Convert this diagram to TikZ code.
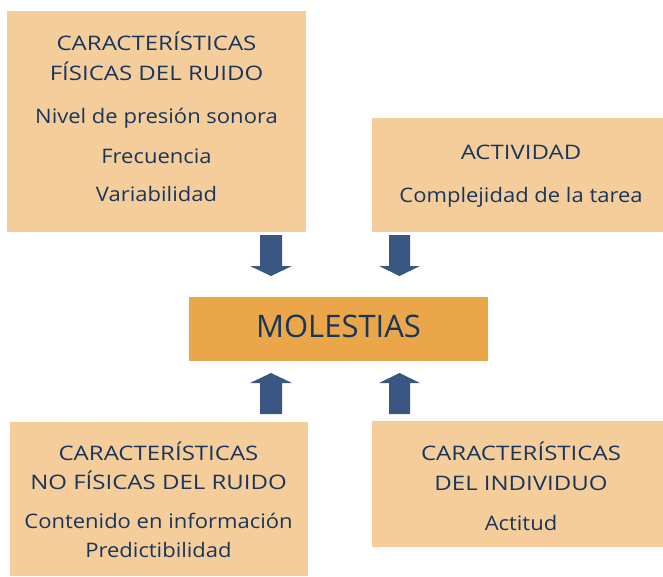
\documentclass[tikz,border=0pt]{standalone}
\usepackage{fontspec}
\setmainfont{Open Sans}
\newfontfamily\lblfont[FakeStretch=1.1]{Open Sans}
\newfontfamily\capfont[FakeStretch=1.2]{Open Sans}
\definecolor{boxfill}{HTML}{F5CD9B}
\definecolor{midfill}{HTML}{EBA64A}
\definecolor{arrowc}{HTML}{3A5683}
\definecolor{txt}{HTML}{17365D}
\begin{document}
\begin{tikzpicture}[x=1pt,y=-1pt,
  box/.style={fill=boxfill,draw=none},
  lbl/.style={anchor=base,text=txt,font=\lblfont\fontsize{20}{24}\selectfont,inner sep=0pt},
  caplbl/.style={anchor=base,text=txt,font=\capfont\fontsize{20}{24}\selectfont,inner sep=0pt},
  big/.style={anchor=base,text=txt,font=\fontsize{31}{36}\selectfont,inner sep=0pt},
  blockarrow/.style={fill=arrowc,draw=none}]
\useasboundingbox (0,0) rectangle (663,576);
% boxes
\fill[box] (7,11) rectangle (306,232);
\fill[box] (372,118) rectangle (663,232);
\fill[midfill] (189,297) rectangle (488,361);
\fill[box] (10,422) rectangle (308,576);
\fill[box] (372,421) rectangle (663,547);
% texts top-left
\node[caplbl] (tl1) at (156.5,50) {CARACTERÍSTICAS};
\node[caplbl] (tl2) at (156.5,80) {FÍSICAS DEL RUIDO};
\node[lbl] (tl3) at (156.5,123) {Nivel de presión sonora};
\node[lbl] (tl4) at (156.5,163) {Frecuencia};
\node[lbl] (tl5) at (156.5,201) {Variabilidad};
% top-right
\node[caplbl] (tr1) at (521,159) {ACTIVIDAD};
\node[lbl] (tr2) at (521,202) {Complejidad de la tarea};
% middle
\node[big] (mid) at (338.5,337) {MOLESTIAS};
% bottom-left
\node[caplbl] (bl1) at (158.5,460) {CARACTERÍSTICAS};
\node[caplbl] (bl2) at (158.5,489) {NO FÍSICAS DEL RUIDO};
\node[lbl] (bl3) at (158.5,528) {Contenido en información};
\node[lbl] (bl4) at (158.5,557) {Predictibilidad};
% bottom-right
\node[caplbl] (br1) at (521,460) {CARACTERÍSTICAS};
\node[caplbl] (br2) at (521,490) {DEL INDIVIDUO};
\node[lbl] (br3) at (521,530) {Actitud};
% block arrows
\fill[blockarrow] (260,235) -- (282,235) -- (282,266) -- (292,266) -- (271,276) -- (250,266) -- (260,266) -- cycle;
\fill[blockarrow] (389,235) -- (410,235) -- (410,266) -- (420,266) -- (399.5,276) -- (379,266) -- (389,266) -- cycle;
\fill[blockarrow] (260,414) -- (282,414) -- (282,383) -- (292,383) -- (271,373) -- (250,383) -- (260,383) -- cycle;
\fill[blockarrow] (389,414) -- (410,414) -- (410,383) -- (420,383) -- (399.5,373) -- (379,383) -- (389,383) -- cycle;
\end{tikzpicture}
\end{document}
